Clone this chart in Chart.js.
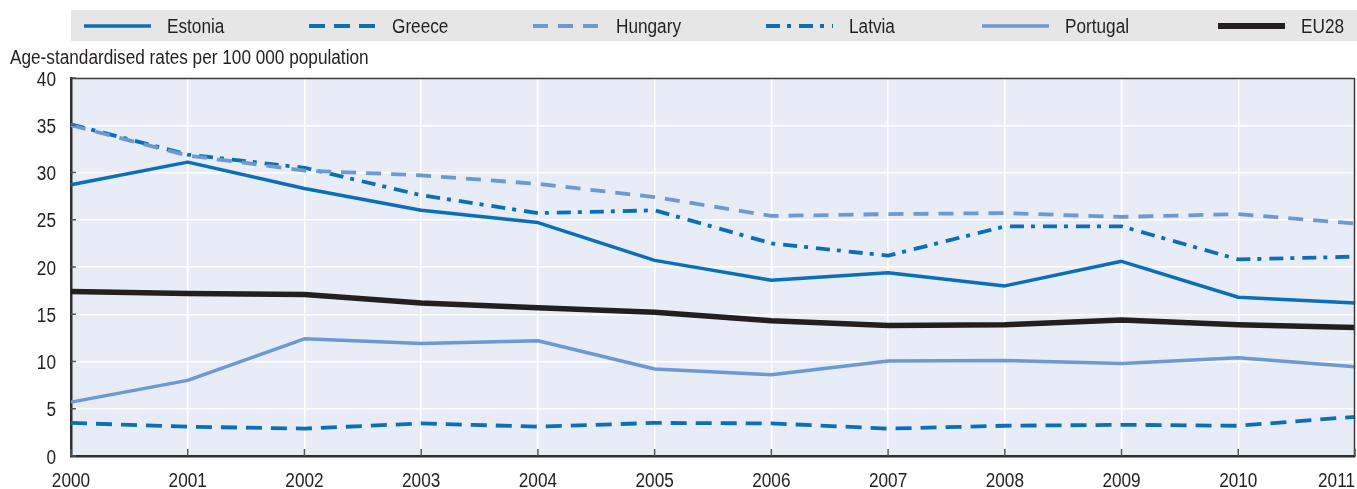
<!DOCTYPE html>
<html>
<head>
<meta charset="utf-8">
<script src="https://cdn.jsdelivr.net/npm/chart.js@4/dist/chart.umd.min.js"></script>
<style>
  html, body { margin: 0; padding: 0; background: #ffffff; }
  #wrap { width: 1357px; height: 489px; }
</style>
</head>
<body>
<div id="wrap"><canvas id="c" width="1357" height="489"></canvas></div>
<script>
// ---- Data ----
const years = ['2000','2001','2002','2003','2004','2005','2006','2007','2008','2009','2010','2011'];
const estonia  = [28.7, 31.1, 28.3, 26.0, 24.7, 20.7, 18.6, 19.4, 18.0, 20.6, 16.8, 16.2];
const greece   = [3.5, 3.1, 2.9, 3.45, 3.1, 3.5, 3.45, 2.9, 3.2, 3.3, 3.2, 4.15];
const hungary  = [35.0, 31.8, 30.2, 29.7, 28.8, 27.4, 25.4, 25.6, 25.7, 25.3, 25.6, 24.6];
const latvia   = [35.1, 31.9, 30.5, 27.6, 25.7, 26.0, 22.5, 21.2, 24.3, 24.3, 20.8, 21.1];
const portugal = [5.7, 8.0, 12.4, 11.9, 12.2, 9.2, 8.6, 10.05, 10.1, 9.8, 10.4, 9.45];
const eu28     = [17.4, 17.2, 17.1, 16.2, 15.7, 15.2, 14.3, 13.8, 13.9, 14.4, 13.9, 13.6];
const seriesNames = ['Estonia', 'Greece', 'Hungary', 'Latvia', 'Portugal', 'EU28'];
const yTickValues = [0, 5, 10, 15, 20, 25, 30, 35, 40];
const yTickLabels = ['0', '5', '10', '15', '20', '25', '30', '35', '40'];
const axisTitle = 'Age-standardised rates per 100 000 population';

// ---- Styles ----
const FONT = "'Liberation Sans', Arial, sans-serif";
const NARROW = 0.86; // horizontal squeeze to imitate a condensed face
const TEXT = '#231f20';
const DARK = '#0a6fb8';
const LIGHT = '#6b99d3';
const BLACK = '#231f20';

const styles = [
  { color: DARK,  width: 3.5, dash: [] },
  { color: DARK,  width: 3.8, dash: [16, 9] },
  { color: LIGHT, width: 3.8, dash: [15, 10] },
  { color: DARK,  width: 3.8, dash: [14, 7, 4, 8] },
  { color: LIGHT, width: 3.5, dash: [] },
  { color: BLACK, width: 5.5, dash: [] }
];
const values = [estonia, greece, hungary, latvia, portugal, eu28];

const datasets = seriesNames.map((name, i) => ({
  label: name,
  data: values[i],
  borderColor: styles[i].color,
  backgroundColor: styles[i].color,
  borderWidth: styles[i].width,
  borderDash: styles[i].dash,
  pointRadius: 0,
  pointHoverRadius: 0,
  tension: 0,
  fill: false,
  borderCapStyle: 'butt',
  borderJoinStyle: 'round'
}));

// legend layout (positions of each item's sample line start)
const legendLineX = [84, 309, 533, 766, 982, 1218];

function narrowText(ctx, text, x, y, align, baseline) {
  ctx.save();
  ctx.translate(x, y);
  ctx.scale(NARROW, 1);
  ctx.textAlign = align;
  ctx.textBaseline = baseline || 'alphabetic';
  ctx.fillText(text, 0, 0);
  ctx.restore();
}

const decor = {
  id: 'decor',
  beforeDraw(chart) {
    const { ctx, chartArea: a } = chart;
    ctx.save();
    ctx.fillStyle = '#ffffff';
    ctx.fillRect(0, 0, chart.width, chart.height);
    // plot background
    ctx.fillStyle = '#e8ecf6';
    ctx.fillRect(a.left, a.top, a.right - a.left, a.bottom - a.top);
    // legend band
    ctx.fillStyle = '#e6e6e7';
    ctx.fillRect(a.left, 10, chart.width - a.left, 31);
    ctx.font = '20px ' + FONT;
    chart.data.datasets.forEach((ds, i) => {
      const x = legendLineX[i];
      ctx.beginPath();
      ctx.strokeStyle = ds.borderColor;
      ctx.lineWidth = i === 5 ? 6 : ds.borderWidth;
      ctx.setLineDash(ds.borderDash || []);
      ctx.moveTo(x, 26);
      ctx.lineTo(x + 67, 26);
      ctx.stroke();
      ctx.setLineDash([]);
      ctx.fillStyle = TEXT;
      narrowText(ctx, ds.label, x + 83, 33, 'left');
    });
    // axis title
    ctx.fillStyle = TEXT;
    narrowText(ctx, axisTitle, 10, 64, 'left');
    ctx.restore();
  },
  afterDraw(chart) {
    const { ctx, chartArea: a, scales } = chart;
    ctx.save();
    // top and right frame
    ctx.strokeStyle = '#3a3a3a';
    ctx.lineWidth = 1.5;
    ctx.beginPath();
    ctx.moveTo(a.left, a.top + 0.5);
    ctx.lineTo(a.right, a.top + 0.5);
    ctx.moveTo(a.right - 0.5, a.top);
    ctx.lineTo(a.right - 0.5, a.bottom);
    ctx.stroke();
    // inner ticks on x axis
    ctx.strokeStyle = '#555555';
    ctx.lineWidth = 1.5;
    const xs = scales.x;
    years.forEach((y, i) => {
      const px = xs.getPixelForTick(i);
      ctx.beginPath();
      ctx.moveTo(px, a.bottom);
      ctx.lineTo(px, a.bottom - 7);
      ctx.stroke();
    });
    // inner ticks on y axis + y labels
    const ys = scales.y;
    ctx.fillStyle = TEXT;
    ctx.font = '20px ' + FONT;
    yTickValues.forEach((v, i) => {
      const py = ys.getPixelForValue(v);
      ctx.beginPath();
      ctx.moveTo(a.left, py);
      ctx.lineTo(a.left + 5, py);
      ctx.stroke();
      narrowText(ctx, yTickLabels[i], 56, py + 7.5, 'right');
    });
    // x labels
    years.forEach((y, i) => {
      let px = xs.getPixelForTick(i);
      const w = ctx.measureText(y).width * NARROW;
      if (px + w / 2 > a.right) px = a.right - w / 2;
      narrowText(ctx, y, px, 487, 'center');
    });
    ctx.restore();
  }
};

new Chart(document.getElementById('c'), {
  type: 'line',
  data: { labels: years, datasets },
  options: {
    responsive: false,
    animation: false,
    events: [],
    layout: { padding: { top: 78, left: 0, right: 2, bottom: 0 } },
    plugins: { legend: { display: false }, tooltip: { enabled: false }, title: { display: false } },
    scales: {
      x: {
        type: 'category',
        offset: false,
        grid: { color: '#ffffff', lineWidth: 1.5, drawTicks: false },
        border: { display: true, color: '#2e2e2e', width: 2.5 },
        ticks: { display: false },
        afterFit(scale) { scale.height = 33; scale.paddingLeft = 0; scale.paddingRight = 0; }
      },
      y: {
        min: 0, max: 40,
        afterBuildTicks(scale) { scale.ticks = yTickValues.map(v => ({ value: v })); },
        grid: { color: '#ffffff', lineWidth: 1.5, drawTicks: false },
        border: { display: true, color: '#2e2e2e', width: 2.5 },
        ticks: { display: false },
        afterFit(scale) { scale.width = 71; scale.paddingTop = 0; scale.paddingBottom = 0; }
      }
    }
  },
  plugins: [decor]
});
</script>
</body>
</html>
